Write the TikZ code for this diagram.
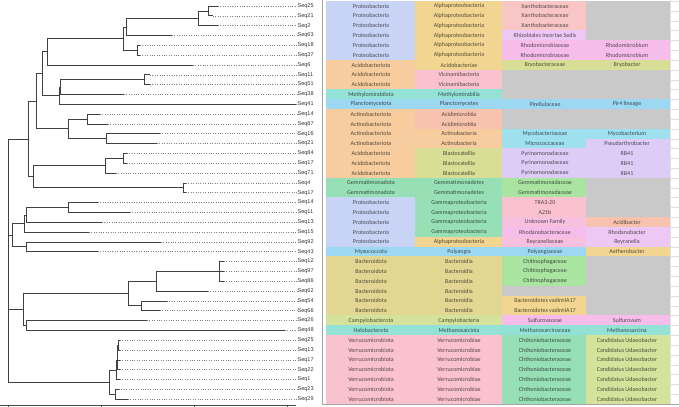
\documentclass[tikz,border=0pt]{standalone}
\usepackage{fontspec}
\setmainfont{Carlito}
\newfontfamily\seqfont{Liberation Sans}
\definecolor{cBlue}{HTML}{C8D4F6}
\definecolor{cTan}{HTML}{F1D591}
\definecolor{cSalmon}{HTML}{F9C6C6}
\definecolor{cLav}{HTML}{EEC8F4}
\definecolor{cMag}{HTML}{F6BDEB}
\definecolor{cGray}{HTML}{C9C9C9}
\definecolor{cOrange}{HTML}{F7CC9E}
\definecolor{cOlive}{HTML}{D8DE95}
\definecolor{cPink}{HTML}{F9C2CE}
\definecolor{cPinkB}{HTML}{F7C0DF}
\definecolor{cTurq}{HTML}{94E2D6}
\definecolor{cSky}{HTML}{9DD8F2}
\definecolor{cPeach}{HTML}{F7C3AE}
\definecolor{cCyan}{HTML}{9FE0EF}
\definecolor{cLilac}{HTML}{DDCCF6}
\definecolor{cMint}{HTML}{97E0B6}
\definecolor{cGreen}{HTML}{A9E4A1}
\definecolor{cKhaki}{HTML}{E3D693}
\definecolor{cYG}{HTML}{D5E29B}
\tikzset{
  br/.style={draw=black!75, line width=0.75pt},
  dots/.style={draw=black!50, line width=0.6pt, dash pattern=on 0.8pt off 1.6pt},
  seq/.style={font=\seqfont\fontsize{5.5}{6}\selectfont, anchor=west, inner sep=0.5pt, text=black!80},
  ctext/.style={font=\fontsize{6}{7}\selectfont, inner sep=0pt},
  gridl/.style={draw=black!12, line width=0.4pt},
  frame/.style={draw=black!35, line width=0.6pt},
  axisl/.style={draw=black!70, line width=0.6pt}
}
\newcommand\trow[9]{%
  \fill[#2] (326,#1-0.52) rectangle (415.4,#1+0.52);
  \fill[#4] (415,#1-0.52) rectangle (502.4,#1+0.52);
  \fill[#6] (502,#1-0.52) rectangle (586.4,#1+0.52);
  \fill[#8] (586,#1-0.52) rectangle (670,#1+0.52);
  \node[ctext,text=#2!35!black] (r#1c1) at (371,#1) {#3};
  \node[ctext,text=#4!35!black] (r#1c2) at (459,#1) {#5};
  \node[ctext,text=#6!35!black] (r#1c3) at (545,#1) {#7};
  \node[ctext,text=#8!35!black] (r#1c4) at (627,#1) {#9};
}
\begin{document}
\begin{tikzpicture}[x=1pt,y=-9.83pt]
\useasboundingbox (0,0.39) rectangle (679,41.79);
% ---------------- table ----------------
\trow{1}{cBlue}{Proteobacteria}{cTan}{Alphaproteobacteria}{cSalmon}{Xanthobacteraceae}{cGray}{}
\trow{2}{cBlue}{Proteobacteria}{cTan}{Alphaproteobacteria}{cSalmon}{Xanthobacteraceae}{cGray}{}
\trow{3}{cBlue}{Proteobacteria}{cTan}{Alphaproteobacteria}{cSalmon}{Xanthobacteraceae}{cGray}{}
\trow{4}{cBlue}{Proteobacteria}{cTan}{Alphaproteobacteria}{cLav}{Rhizobiales Incertae Sedis}{cGray}{}
\trow{5}{cBlue}{Proteobacteria}{cTan}{Alphaproteobacteria}{cMag}{Rhodomicrobiaceae}{cMag}{Rhodomicrobium}
\trow{6}{cBlue}{Proteobacteria}{cTan}{Alphaproteobacteria}{cMag}{Rhodomicrobiaceae}{cMag}{Rhodomicrobium}
\trow{7}{cOrange}{Acidobacteriota}{cTan}{Acidobacteriae}{cOlive}{Bryobacteraceae}{cOlive}{Bryobacter}
\trow{8}{cOrange}{Acidobacteriota}{cPink}{Vicinamibacteria}{cGray}{}{cGray}{}
\trow{9}{cOrange}{Acidobacteriota}{cPink}{Vicinamibacteria}{cGray}{}{cGray}{}
\trow{10}{cTurq}{Methylomirabilota}{cTurq}{Methylomirabilia}{cGray}{}{cGray}{}
\trow{11}{cSky}{Planctomycetota}{cSky}{Planctomycetes}{cSky}{Pirellulaceae}{cSky}{Pir4 lineage}
\trow{12}{cOrange}{Actinobacteriota}{cPeach}{Acidimicrobiia}{cGray}{}{cGray}{}
\trow{13}{cOrange}{Actinobacteriota}{cPeach}{Acidimicrobiia}{cGray}{}{cGray}{}
\trow{14}{cOrange}{Actinobacteriota}{cOrange}{Actinobacteria}{cCyan}{Mycobacteriaceae}{cCyan}{Mycobacterium}
\trow{15}{cOrange}{Actinobacteriota}{cOrange}{Actinobacteria}{cCyan}{Micrococcaceae}{cLilac}{Pseudarthrobacter}
\trow{16}{cOrange}{Acidobacteriota}{cOlive}{Blastocatellia}{cLilac}{Pyrinomonadaceae}{cLilac}{RB41}
\trow{17}{cOrange}{Acidobacteriota}{cOlive}{Blastocatellia}{cLilac}{Pyrinomonadaceae}{cLilac}{RB41}
\trow{18}{cOrange}{Acidobacteriota}{cOlive}{Blastocatellia}{cLilac}{Pyrinomonadaceae}{cLilac}{RB41}
\trow{19}{cMint}{Gemmatimonadota}{cMint}{Gemmatimonadetes}{cGreen}{Gemmatimonadaceae}{cGray}{}
\trow{20}{cMint}{Gemmatimonadota}{cMint}{Gemmatimonadetes}{cGreen}{Gemmatimonadaceae}{cGray}{}
\trow{21}{cBlue}{Proteobacteria}{cMint}{Gammaproteobacteria}{cPink}{TRA3-20}{cGray}{}
\trow{22}{cBlue}{Proteobacteria}{cMint}{Gammaproteobacteria}{cPink}{A21b}{cGray}{}
\trow{23}{cBlue}{Proteobacteria}{cMint}{Gammaproteobacteria}{cPinkB}{Unknown Family}{cPeach}{Acidibacter}
\trow{24}{cBlue}{Proteobacteria}{cMint}{Gammaproteobacteria}{cMag}{Rhodanobacteraceae}{cLav}{Rhodanobacter}
\trow{25}{cBlue}{Proteobacteria}{cTan}{Alphaproteobacteria}{cPinkB}{Reyranellaceae}{cLav}{Reyranella}
\trow{26}{cSky}{Myxococcota}{cSky}{Polyangia}{cSky}{Polyangiaceae}{cTan}{Aetherobacter}
\trow{27}{cKhaki}{Bacteroidota}{cKhaki}{Bacteroidia}{cGreen}{Chitinophagaceae}{cGray}{}
\trow{28}{cKhaki}{Bacteroidota}{cKhaki}{Bacteroidia}{cGreen}{Chitinophagaceae}{cGray}{}
\trow{29}{cKhaki}{Bacteroidota}{cKhaki}{Bacteroidia}{cGreen}{Chitinophagaceae}{cGray}{}
\trow{30}{cKhaki}{Bacteroidota}{cKhaki}{Bacteroidia}{cGray}{}{cGray}{}
\trow{31}{cKhaki}{Bacteroidota}{cKhaki}{Bacteroidia}{cTan}{Bacteroidetes vadinHA17}{cGray}{}
\trow{32}{cKhaki}{Bacteroidota}{cKhaki}{Bacteroidia}{cTan}{Bacteroidetes vadinHA17}{cGray}{}
\trow{33}{cYG}{Campylobacterota}{cYG}{Campylobacteria}{cMag}{Sulfurovaceae}{cMag}{Sulfurovum}
\trow{34}{cTurq}{Halobacterota}{cTurq}{Methanosarcinia}{cTurq}{Methanosarcinaceae}{cTurq}{Methanosarcina}
\foreach \r in {35,...,41}{
  \trow{\r}{cPink}{Verrucomicrobiota}{cPink}{Verrucomicrobiae}{cMint}{Chthoniobacteraceae}{cYG}{Candidatus Udaeobacter}
}
% spreadsheet margin grid and frame
\foreach \k in {0.5,1.5,...,41.5}{ \draw[gridl] (670,\k) -- (679,\k); }
\draw[gridl] (670,0.39) -- (670,41.5);
\draw[frame] (322,0.39) -- (322,41.55) -- (679,41.55);
% ---------------- tree ----------------
\coordinate (R) at (8,27);
\coordinate (A) at (28,14.54);
\coordinate (A1) at (36,10.7);
\coordinate (A11) at (42,7.89);
\coordinate (A111) at (47,5.66);
\coordinate (N1) at (123,4.31);
\coordinate (N2) at (126,3.125);
\coordinate (N4) at (198,2.25);
\coordinate (N5) at (208,1.5);
\coordinate (N3) at (137,5.5);
\coordinate (A112) at (59,10.125);
\coordinate (N6) at (60,9.25);
\coordinate (N7) at (144,8.5);
\coordinate (A12) at (68,13.5);
\coordinate (N8) at (87,12.5);
\coordinate (N9) at (106,14.5);
\coordinate (A2) at (33,18.375);
\coordinate (N10) at (105,17.25);
\coordinate (N12) at (123,16.5);
\coordinate (N11) at (183,19.5);
\coordinate (B) at (12,24.31);
\coordinate (N15) at (24,23.125);
\coordinate (N14) at (26,22.25);
\coordinate (N13) at (68,21.5);
\coordinate (N16) at (26,25.5);
\coordinate (C) at (23,31.875);
\coordinate (N20) at (128,30.25);
\coordinate (N18) at (156,29);
\coordinate (N17) at (219,28);
\coordinate (N19) at (141,31.5);
\coordinate (N21) at (26,33.5);
\coordinate (D) at (109,39.3);
\coordinate (N22d) at (116,38.05);
\coordinate (N22c) at (117,37.1);
\coordinate (N22b) at (117.5,36.25);
\coordinate (N22a) at (118,35.5);
\coordinate (N23) at (115,40.5);
% leaves
\foreach \i/\tx/\lab in {1/218/Seq25,2/213/Seq21,3/218/Seq2,4/172/Seq63,5/140/Seq18,6/140/Seq37,7/193/Seq6,8/150/Seq11,9/150/Seq51,10/124/Seq38,
  11/296/Seq41,12/100/Seq14,13/108/Seq87,14/160/Seq16,15/157/Seq21,16/127/Seq84,17/127/Seq17,18/116/Seq71,19/186/Seq4,20/186/Seq17,
  21/98/Seq14,22/130/Seq11,23/102/Seq13,24/89/Seq15,25/161/Seq92,26/98/Seq43,27/224/Seq12,28/224/Seq97,29/224/Seq86,30/208/Seq62,
  31/167/Seq54,32/160/Seq66,33/147/Seq26,34/285/Seq48,35/120/Seq25,36/120/Seq13,37/120/Seq17,38/120/Seq22,39/120/Seq1,40/119/Seq23,41/128/Seq29}{
  \coordinate (t\i) at (\tx,\i);
  \node[seq] (s\i) at (297,\i) {\lab};
  \draw[dots] (t\i) -- (s\i.west);
}
\foreach \p/\c in {R/A,R/B,R/C,R/D,
  A/A1,A/A2,A1/A11,A1/A12,A11/A111,A11/A112,A111/N1,A111/t7,N1/N2,N1/N3,N2/N4,N2/t4,N4/N5,N4/t3,N5/t1,N5/t2,N3/t5,N3/t6,
  A112/N6,A112/t11,N6/N7,N6/t10,N7/t8,N7/t9,A12/N8,A12/N9,N8/t12,N8/t13,N9/t14,N9/t15,
  A2/N10,A2/N11,N10/N12,N10/t18,N12/t16,N12/t17,N11/t19,N11/t20,
  B/N15,B/N16,N15/N14,N15/t24,N14/N13,N14/t23,N13/t21,N13/t22,N16/t25,N16/t26,
  C/N20,C/N21,N20/N18,N20/N19,N18/N17,N18/t30,N17/t27,N17/t28,N17/t29,N19/t31,N19/t32,N21/t33,N21/t34,
  D/N22d,D/N23,N22d/N22c,N22d/t39,N22c/N22b,N22c/t38,N22b/N22a,N22b/t37,N22a/t35,N22a/t36,N23/t40,N23/t41}{
  \draw[br] (\p) |- (\c);
}
% scale axis
\draw[axisl] (0,41.59) -- (296,41.59);
\foreach \x in {8,101,194,287}{ \draw[axisl] (\x,41.59) -- (\x,41.79); }
\end{tikzpicture}
\end{document}
